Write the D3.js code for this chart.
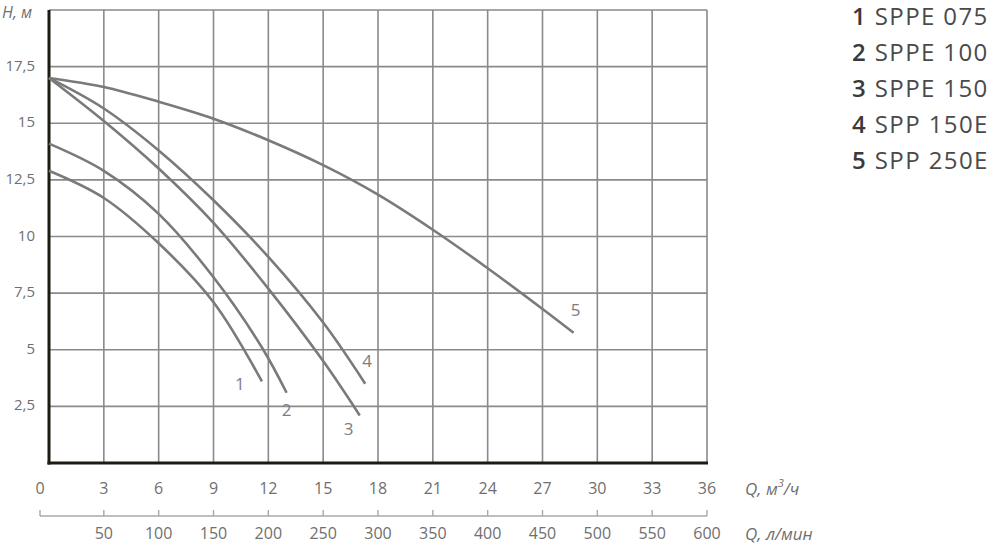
<!DOCTYPE html>
<html>
<head>
<meta charset="utf-8">
<script src="https://cdn.jsdelivr.net/npm/d3@7"></script>
<style>
  body { margin: 0; background: #fff; }
  svg { display: block; font-family: "Open Sans", sans-serif; }
</style>
</head>
<body>
<svg id="chart"></svg>
<script>
// chart size
var width = 1000;
var height = 546;

// curve data: [Q m3/h, H m]
const curve1 = [[0, 12.9], [3, 11.7], [6, 9.7], [9, 7.1], [11.65, 3.6]];
const curve2 = [[0, 14.1], [3, 12.9], [6, 11.0], [9, 8.2], [11.65, 5.1], [13.0, 3.1]];
const curve3 = [[0, 17.0], [3, 15.1], [6, 13.0], [9, 10.6], [12, 7.7], [15, 4.5], [17.0, 2.1]];
const curve4 = [[0, 17.0], [3, 15.65], [6, 13.8], [9, 11.6], [12, 9.1], [15, 6.2], [17.3, 3.5]];
const curve5 = [[0, 17.0], [3, 16.6], [6, 15.95], [9, 15.2], [12, 14.25], [15, 13.15], [18, 11.85], [21, 10.3], [24, 8.6], [27, 6.8], [28.7, 5.75]];
const curveNums = ["1", "2", "3", "4", "5"];
const curveNames = ["SPPE 075", "SPPE 100", "SPPE 150", "SPP 150E", "SPP 250E"];

// ticks
const qTicks = [0, 3, 6, 9, 12, 15, 18, 21, 24, 27, 30, 33, 36];
const hTicks = [2.5, 5, 7.5, 10, 12.5, 15, 17.5];
const lpmTicks = [50, 100, 150, 200, 250, 300, 350, 400, 450, 500, 550, 600];

var curves = [curve1, curve2, curve3, curve4, curve5];
// label offsets from curve end (px)
var labelOff = [[-22, 4], [0, 19], [-11, 15], [2, -21], [2, -21]];

var svg = d3.select('#chart')
    .attr("width", width)
    .attr("height", height);

var x = d3.scaleLinear().domain([0, 36]).range([49, 707]);
var y = d3.scaleLinear().domain([0, 20]).range([463, 10]);
var xl = d3.scaleLinear().domain([0, 600]).range([49, 707]);

var gridColor = "#8a8a8a";
var textColor = "#6f6f6f";

// grid
svg.append("g")
    .selectAll("line")
    .data(qTicks.slice(1))
    .join("line")
    .attr("x1", d => x(d)).attr("x2", d => x(d))
    .attr("y1", y(0)).attr("y2", y(20))
    .attr("stroke", gridColor).attr("stroke-width", 1.6);

svg.append("g")
    .selectAll("line")
    .data(hTicks.concat([20]))
    .join("line")
    .attr("x1", x(0)).attr("x2", x(36))
    .attr("y1", d => y(d)).attr("y2", d => y(d))
    .attr("stroke", gridColor).attr("stroke-width", 1.6);

// main axes (thick)
svg.append("line")
    .attr("x1", x(0)).attr("x2", x(0))
    .attr("y1", y(20)).attr("y2", y(0) + 1.5)
    .attr("stroke", "#1e1a14").attr("stroke-width", 3);
svg.append("line")
    .attr("x1", x(0) - 1.5).attr("x2", x(36) + 1)
    .attr("y1", y(0)).attr("y2", y(0))
    .attr("stroke", "#1e1a14").attr("stroke-width", 3);

// curves
var line = d3.line()
    .x(d => x(d[0]))
    .y(d => y(d[1]))
    .curve(d3.curveCatmullRom.alpha(0.5));

svg.append("g")
    .selectAll("path")
    .data(curves)
    .join("path")
    .attr("d", line)
    .attr("fill", "none")
    .attr("stroke", "#7a7a7a")
    .attr("stroke-width", 2.6);

// curve number labels
svg.append("g")
    .selectAll("text")
    .data(curves)
    .join("text")
    .attr("x", (d, i) => x(d[d.length - 1][0]) + labelOff[i][0])
    .attr("y", (d, i) => y(d[d.length - 1][1]) + labelOff[i][1])
    .attr("text-anchor", "middle")
    .attr("dominant-baseline", "middle")
    .attr("font-size", 17)
    .attr("fill", "#7d7d7d")
    .text((d, i) => curveNums[i]);

// H tick labels
svg.append("g")
    .selectAll("text")
    .data(hTicks)
    .join("text")
    .attr("x", 35)
    .attr("y", d => y(d))
    .attr("text-anchor", "end")
    .attr("dominant-baseline", "middle")
    .attr("font-size", 15)
    .attr("fill", textColor)
    .text(d => String(d).replace(".", ","));

svg.append("text")
    .attr("x", 2).attr("y", 18)
    .attr("font-size", 16).attr("font-style", "italic")
    .attr("fill", textColor)
    .text("H, м");

// Q m3/h tick labels
svg.append("g")
    .selectAll("text")
    .data(qTicks)
    .join("text")
    .attr("x", d => d === 0 ? x(d) - 9 : x(d))
    .attr("y", 490)
    .attr("text-anchor", "middle")
    .attr("dominant-baseline", "middle")
    .attr("font-size", 16)
    .attr("fill", textColor)
    .text(d => d);

var q1 = svg.append("text")
    .attr("x", 745).attr("y", 490)
    .attr("dominant-baseline", "middle")
    .attr("font-size", 17).attr("font-style", "italic")
    .attr("fill", textColor);
q1.append("tspan").text("Q, м");
q1.append("tspan").attr("font-size", 11).attr("dy", -6).text("3");
q1.append("tspan").attr("dy", 6).text("/ч");

// second axis l/min
svg.append("line")
    .attr("x1", x(0) - 9).attr("x2", xl(600))
    .attr("y1", 516).attr("y2", 516)
    .attr("stroke", "#a8a8a8").attr("stroke-width", 1.4);

svg.append("g")
    .selectAll("line")
    .data([-1].concat(lpmTicks))
    .join("line")
    .attr("x1", d => d < 0 ? x(0) - 9 : xl(d))
    .attr("x2", d => d < 0 ? x(0) - 9 : xl(d))
    .attr("y1", 510).attr("y2", 516)
    .attr("stroke", "#a8a8a8").attr("stroke-width", 1.4);

svg.append("g")
    .selectAll("text")
    .data(lpmTicks)
    .join("text")
    .attr("x", d => xl(d))
    .attr("y", 535)
    .attr("text-anchor", "middle")
    .attr("dominant-baseline", "middle")
    .attr("font-size", 16)
    .attr("fill", textColor)
    .text(d => d);

svg.append("text")
    .attr("x", 745).attr("y", 535)
    .attr("dominant-baseline", "middle")
    .attr("font-size", 17).attr("font-style", "italic")
    .attr("fill", textColor)
    .text("Q, л/мин");

// legend
var legend = svg.append("g")
    .selectAll("text")
    .data(curveNames)
    .join("text")
    .attr("x", 852)
    .attr("y", (d, i) => 25 + i * 36)
    .attr("font-size", 24)
    .attr("letter-spacing", 1.4)
    .attr("fill", "#4a4a4a");
legend.append("tspan").attr("font-weight", 600).attr("fill", "#3a3a3a").text((d, i) => curveNums[i] + " ");
legend.append("tspan").text(d => d);
</script>
</body>
</html>
